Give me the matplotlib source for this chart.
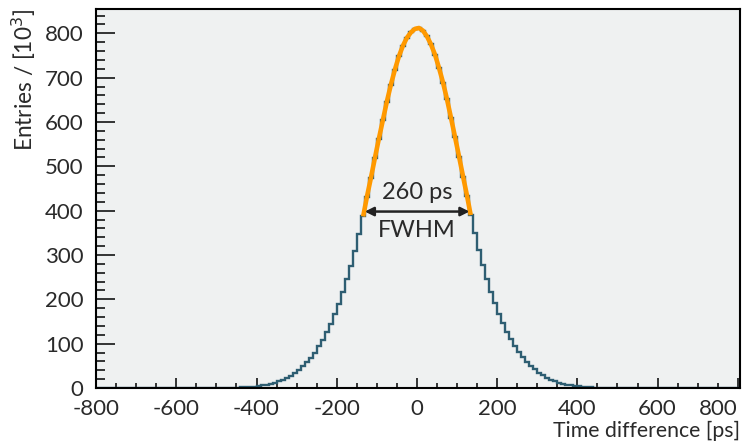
import numpy as np
import matplotlib
matplotlib.use('Agg')
import matplotlib.pyplot as plt
from matplotlib.ticker import MultipleLocator

# Histogram: 10 ps bins from -500 to 500 ps, entries in units of 10^3
bin_edges = np.arange(-500, 501, 10)
counts = [0.2, 0.3, 0.4, 0.6, 0.8, 1.1, 1.5, 2.0, 2.6, 3.4,
          4.5, 5.8, 7.5, 9.5, 12, 15, 18.5, 23, 28, 34,
          41, 49, 58, 68, 80, 94, 109, 126, 145, 166,
          190, 216, 245, 276, 310, 348, 388, 430, 473, 518,
          562, 604, 646, 684, 718, 748, 772, 790, 802, 810,
          812, 806, 793, 775, 752, 722, 689, 651, 609, 566,
          522, 477, 433, 391, 350, 312, 278, 246, 217, 191,
          167, 146, 127, 110, 95, 81, 69, 59, 50, 42,
          35, 29, 23.5, 19, 15.5, 12.3, 9.8, 7.7, 6.0, 4.6,
          3.5, 2.7, 2.0, 1.5, 1.1, 0.8, 0.6, 0.4, 0.3, 0.2]

# Fit curve over the FWHM region
fit_t = [-133, -125, -115, -105, -95, -85, -75, -65, -55, -45, -35, -25, -15, -5,
         5, 15, 25, 35, 45, 55, 65, 75, 85, 95, 105, 115, 125, 133]
fit_y = [392, 430, 473, 518, 562, 604, 646, 684, 718, 748, 772, 790, 802, 810,
         812, 806, 793, 775, 752, 722, 689, 651, 609, 566, 522, 477, 433, 395]

fwhm_lo, fwhm_hi, half_level = -130, 131, 398

plt.rcParams['font.family'] = ['Lato', 'DejaVu Sans']

fig = plt.figure(figsize=(7.45, 4.46), dpi=100)
ax = fig.add_axes([0.129, 0.130, 0.864, 0.850])
ax.set_facecolor('#eff1f1')

# pad histogram with empty bins out to the axis range
edges = np.concatenate([[-800], bin_edges, [805]])
vals = np.concatenate([[0], counts, [0]])
ax.stairs(vals, edges, color='#2e5e72', linewidth=1.7, zorder=2)

ax.plot(fit_t, fit_y, color='#ff9900', linewidth=3.3, zorder=3)

ax.annotate('', xy=(fwhm_lo, half_level), xytext=(fwhm_hi, half_level),
            arrowprops=dict(arrowstyle='<|-|>', color='#222222', lw=1.8,
                            mutation_scale=13, shrinkA=0, shrinkB=0), zorder=4)
ax.text(0, 440, '260 ps', ha='center', va='center', fontsize=17, color='#2a2a2a')
ax.text(0, 355, 'FWHM', ha='center', va='center', fontsize=17, color='#2a2a2a')

ax.set_xlim(-800, 805)
ax.set_ylim(0, 855)
ax.xaxis.set_major_locator(MultipleLocator(200))
ax.xaxis.set_minor_locator(MultipleLocator(50))
ax.yaxis.set_major_locator(MultipleLocator(100))
ax.yaxis.set_minor_locator(MultipleLocator(20))

ax.tick_params(axis='x', which='major', direction='in', length=7.2, width=1.1, labelsize=16, pad=8,
               labelcolor='#2a2a2a')
ax.tick_params(axis='x', which='minor', direction='in', length=3.6, width=1.1)
ax.tick_params(axis='y', which='major', direction='in', length=14, width=1.1, labelsize=16, pad=9,
               labelcolor='#2a2a2a')
ax.tick_params(axis='y', which='minor', direction='in', length=6.5, width=1.1)

for s in ax.spines.values():
    s.set_linewidth(1.5)

ax.set_xticks(np.arange(-800, 801, 200))
ax.set_xticklabels(['-800', '-600', '-400', '-200', '0', '200', '400', '600', '800'])
ax.get_xticklabels()[-1].set_horizontalalignment('right')

ax.set_xlabel('Time difference [ps]', fontsize=15.3, loc='right', labelpad=1, color='#2a2a2a')
ax.set_ylabel('Entries / [10$^3$]', fontsize=16.3, loc='top', labelpad=5, color='#2a2a2a')

fig.savefig('out.png', dpi=100, facecolor='white')
